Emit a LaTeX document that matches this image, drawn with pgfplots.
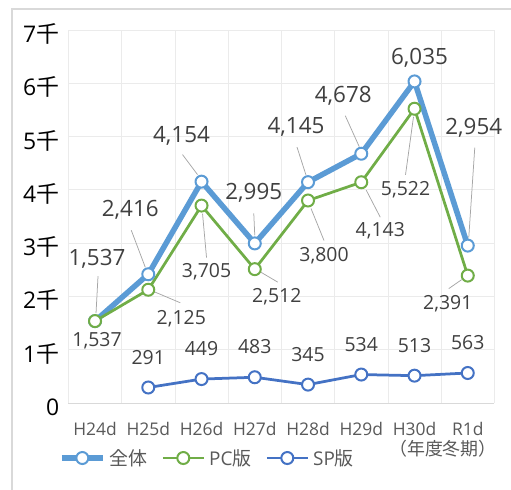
\documentclass[border=0pt]{standalone}
\usepackage{fontspec}
\setmainfont{Open Sans}
\newfontfamily\jp{Noto Sans CJK JP}
\usepackage{pgfplots}
\usepackage{pgfplotstable}
\pgfplotsset{compat=1.18}
\usetikzlibrary{calc}

\definecolor{allc}{HTML}{5B9BD5}
\definecolor{pcc}{HTML}{70AD47}
\definecolor{spc}{HTML}{4472C4}
\definecolor{labc}{HTML}{404040}
\definecolor{tickc}{HTML}{595959}
\definecolor{gridc}{HTML}{EBEBEB}
\definecolor{leadc}{HTML}{A6A6A6}
\definecolor{framec}{HTML}{D9D9D9}

\tikzset{
  big/.style={font=\fontsize{22.5}{24}\selectfont, text=labc, text height=0.714em, text depth=0pt, inner sep=0pt},
  small/.style={font=\fontsize{19.5}{22}\selectfont, text=labc, text height=0.714em, text depth=0pt, inner sep=0pt},
}

% winter-season totals by fiscal year
\pgfplotstableread{
i all pc
0 1537 1537
1 2416 2125
2 4154 3705
3 2995 2512
4 4145 3800
5 4678 4143
6 6035 5522
7 2954 2391
}\totals
\pgfplotstableread{
i sp
1 291
2 449
3 483
4 345
5 534
6 513
7 563
}\smartphone

% value label: x, value, dx, dy, style
\newcommand{\vlab}[5]{\node[#5] at ($(axis cs:#1,#2)+(#3bp,#4bp)$)
  {\pgfmathprintnumber[1000 sep={,},assume math mode=true,fixed,precision=0]{#2}};}
% leader line: x, value, start dx, start dy, end dx, end dy
\newcommand{\lead}[6]{\draw[leadc,line width=0.75bp]
  ($(axis cs:#1,#2)+(#3bp,#4bp)$) -- ($(axis cs:#1,#2)+(#5bp,#6bp)$);}

\begin{document}
\begin{tikzpicture}
\path[use as bounding box] (0,0) rectangle (511bp,490bp);
\draw[framec,line width=1.5bp] (12bp,0) -- (12bp,481bp) -- (511bp,481bp);
\begin{axis}[
  at={(68.4bp,87bp)}, anchor=south west,
  scale only axis, width=426bp, height=373bp,
  xmin=-0.5, xmax=7.5, ymin=0, ymax=7000,
  clip=false,
  axis line style={draw=none},
  tick style={draw=none},
  major tick length=0pt, minor tick length=0pt,
  xtick={0,...,7},
  xticklabels={H24d,H25d,H26d,H27d,H28d,H29d,H30d,R1d},
  minor xtick={-0.5,0.5,...,7.5},
  xminorgrids=true, xmajorgrids=false, ymajorgrids=true,
  grid style={gridc,line width=0.75bp},
  minor grid style={gridc,line width=0.75bp},
  ytick={0,1000,...,7000},
  yticklabels={0,1{\jp 千},2{\jp 千},3{\jp 千},4{\jp 千},5{\jp 千},6{\jp 千},7{\jp 千}},
  xticklabel style={font=\fontsize{17.5}{20}\selectfont, text=tickc,
    anchor=center, yshift=-26bp, inner sep=0pt},
  yticklabel style={font=\fontsize{23}{26}\selectfont, text=black,
    anchor=east, inner sep=0pt, xshift=-9bp, yshift=-4bp},
  legend columns=3,
  legend style={at={(0.3265,-0.1475)}, anchor=center, draw=none, fill=none,
    font=\fontsize{19}{22}\selectfont, text=tickc,
    /tikz/every odd column/.append style={column sep=2bp},
    /tikz/every even column/.append style={column sep=12bp}},
  legend image code/.code={\draw[mark repeat=2,mark phase=2,#1]
    plot coordinates {(0bp,0bp) (20.5bp,0bp) (41bp,0bp)};},
]
\draw[framec,line width=0.75bp] (axis cs:-0.5,0) -- (axis cs:7.5,0);

% leader lines for the totals
\lead{0}{1537}{3}{45}{1}{8}
\lead{1}{2416}{-17}{44}{-3}{7}
\lead{2}{4154}{-19}{27}{-4}{7}
\lead{3}{2995}{-1}{30}{0}{8}
\lead{4}{4145}{-11}{35}{-2}{7}
\lead{5}{4678}{-16}{38}{-2}{7}
\lead{7}{2954}{7}{98}{1}{8}
% leader lines for PC
\lead{1}{2125}{32}{-13}{6}{-2}
\lead{2}{3705}{5}{-52}{1}{-8}
\lead{3}{2512}{23}{-13}{6}{-3}
\lead{4}{3800}{16}{-40}{3}{-8}
\lead{5}{4143}{19}{-35}{5}{-8}
\lead{6}{5522}{-9}{-66}{-1}{-8}
\lead{7}{2391}{-19}{-13}{-6}{-4}

\addplot[allc, line width=5.5bp, mark=*, mark size=6bp,
  mark options={fill=white, draw=allc, line width=2bp}]
  table[x=i, y=all] {\totals};
\addlegendentry{\jp 全体}
\addplot[pcc, line width=2.75bp, mark=*, mark size=6bp,
  mark options={fill=white, draw=pcc, line width=2bp}]
  table[x=i, y=pc] {\totals};
\addlegendentry{PC{\jp 版}}
\addplot[spc, line width=2.75bp, mark=*, mark size=6bp,
  mark options={fill=white, draw=spc, line width=2bp}]
  table[x=i, y=sp] {\smartphone};
\addlegendentry{SP{\jp 版}}

% totals
\vlab{0}{1537}{2}{59}{big}
\vlab{1}{2416}{-18}{61}{big}
\vlab{2}{4154}{-20}{43}{big}
\vlab{3}{2995}{-1}{47}{big}
\vlab{4}{4145}{-12}{52}{big}
\vlab{5}{4678}{-18}{55}{big}
\vlab{6}{6035}{5}{20}{big}
\vlab{7}{2954}{6}{115}{big}
% PC
\vlab{0}{1537}{2}{-22}{small}
\vlab{1}{2125}{33}{-31}{small}
\vlab{2}{3705}{5}{-68}{small}
\vlab{3}{2512}{22}{-30}{small}
\vlab{4}{3800}{16}{-57}{small}
\vlab{5}{4143}{19}{-51}{small}
\vlab{6}{5522}{-9}{-83}{small}
\vlab{7}{2391}{-20}{-30}{small}
% SP
\vlab{1}{291}{0}{27}{small}
\vlab{2}{449}{0}{27}{small}
\vlab{3}{483}{0}{27}{small}
\vlab{4}{345}{0}{27}{small}
\vlab{5}{534}{0}{27}{small}
\vlab{6}{513}{0}{27}{small}
\vlab{7}{563}{0}{27}{small}

\node[font=\jp\fontsize{18}{21}\selectfont, text=tickc, inner sep=0pt,
  text height=0.8em, text depth=0.1em]
  at (axis description cs:0.8793,-0.132) {（年度冬期）};
\end{axis}
\end{tikzpicture}
\end{document}
